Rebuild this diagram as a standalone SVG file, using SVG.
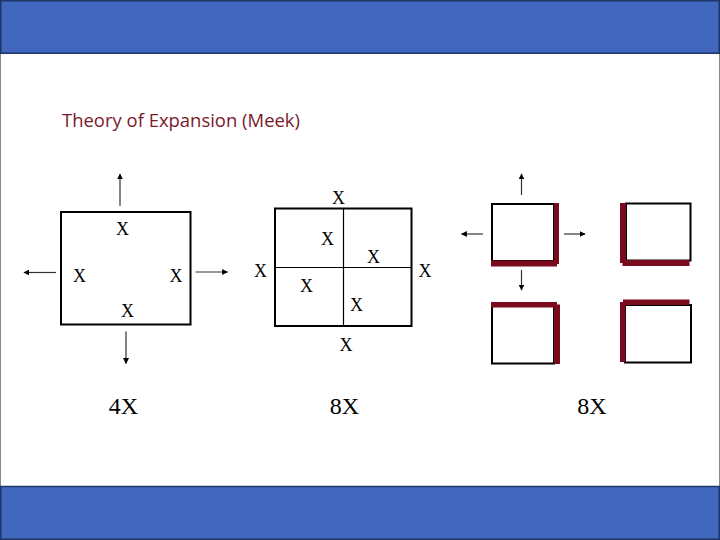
<svg xmlns="http://www.w3.org/2000/svg" width="720" height="540" viewBox="0 0 720 540">
<defs>
<marker id="ah" viewBox="0 0 10 10" refX="9" refY="5" markerWidth="6" markerHeight="6" markerUnits="userSpaceOnUse" orient="auto">
<path d="M0,0 L10,5 L0,10 z" fill="#000"/>
</marker>
<style>
.band{fill:#4066BE;stroke:#1F3565;stroke-width:1.5}
.box{fill:#fff;stroke:#000;stroke-width:2}
.thin{stroke:#000;stroke-width:1.2;fill:none}
.arr{stroke:#333;stroke-width:1.2;fill:none;marker-end:url(#ah)}
.red{fill:#7A0A1E}
.x{font-family:"Liberation Serif","Times New Roman",serif;font-size:18px;fill:#000;text-anchor:middle}
.lab{font-family:"Liberation Serif","Times New Roman",serif;font-size:24px;fill:#000;text-anchor:middle}
.title{font-family:"Open Sans","Liberation Sans",Arial,sans-serif;font-size:18px;fill:#7B1A2C}
</style>
</defs>
<rect x="0" y="0" width="720" height="540" fill="#fff"/>
<line x1="0.5" y1="53" x2="0.5" y2="487" stroke="#888" stroke-width="1"/>
<line x1="719.5" y1="53" x2="719.5" y2="487" stroke="#888" stroke-width="1"/>
<rect class="band" x="0.75" y="0.75" width="718.5" height="52.5"/>
<rect class="band" x="0.75" y="486.5" width="718.5" height="52.75"/>
<text class="title" x="62" y="127" textLength="238" lengthAdjust="spacingAndGlyphs">Theory of Expansion (Meek)</text>

<g id="node-4x">
<rect class="box" x="61" y="212" width="129.5" height="112.5"/>
<text class="x" x="122.5" y="235">X</text>
<text class="x" x="79.5" y="282">X</text>
<text class="x" x="176" y="282">X</text>
<text class="x" x="127.5" y="317">X</text>
<text class="lab" x="123.5" y="414">4X</text>
</g>

<g id="node-8x">
<rect class="box" x="275" y="208.5" width="136.5" height="117.5"/>
<line class="thin" x1="343.5" y1="208.5" x2="343.5" y2="326"/>
<line class="thin" x1="275" y1="267.5" x2="411.5" y2="267.5"/>
<text class="x" x="338.5" y="204">X</text>
<text class="x" x="327.5" y="244.5">X</text>
<text class="x" x="373.5" y="263">X</text>
<text class="x" x="260.5" y="277">X</text>
<text class="x" x="425" y="277">X</text>
<text class="x" x="306.5" y="292">X</text>
<text class="x" x="356.5" y="311">X</text>
<text class="x" x="346" y="351">X</text>
<text class="lab" x="344.5" y="414">8X</text>
</g>

<g id="node-8x-split">
<g id="sq1">
<rect class="box" x="492" y="204" width="62" height="57"/>
<rect class="red" x="554" y="203" width="5" height="61"/>
<rect class="red" x="491" y="260.5" width="66" height="6"/>
</g>
<g id="sq2">
<rect class="box" x="626" y="203.5" width="64.5" height="57"/>
<rect class="red" x="620" y="203" width="6" height="60"/>
<rect class="red" x="622.5" y="260" width="67" height="6"/>
</g>
<g id="sq3">
<rect class="box" x="492" y="305" width="62" height="58.5"/>
<rect class="red" x="491" y="302" width="66" height="5.5"/>
<rect class="red" x="554" y="304.5" width="6" height="59.5"/>
</g>
<g id="sq4">
<rect class="box" x="625" y="305" width="66" height="57.5"/>
<rect class="red" x="623" y="299.5" width="66.5" height="5.5"/>
<rect class="red" x="620" y="302" width="5.5" height="60"/>
</g>
<text class="lab" x="592" y="414">8X</text>
</g>

<g id="connectors">
<line class="arr" x1="120" y1="206" x2="120" y2="174"/>
<line class="arr" x1="56" y1="272.5" x2="24" y2="272.5"/>
<line class="arr" x1="195.5" y1="272" x2="227.5" y2="272"/>
<line class="arr" x1="126" y1="331.5" x2="126" y2="363.5"/>
<line class="arr" x1="521.5" y1="195" x2="521.5" y2="174"/>
<line class="arr" x1="483" y1="234" x2="461.5" y2="234"/>
<line class="arr" x1="564" y1="234" x2="585" y2="234"/>
<line class="arr" x1="521.5" y1="270" x2="521.5" y2="290"/>
</g>
</svg>
